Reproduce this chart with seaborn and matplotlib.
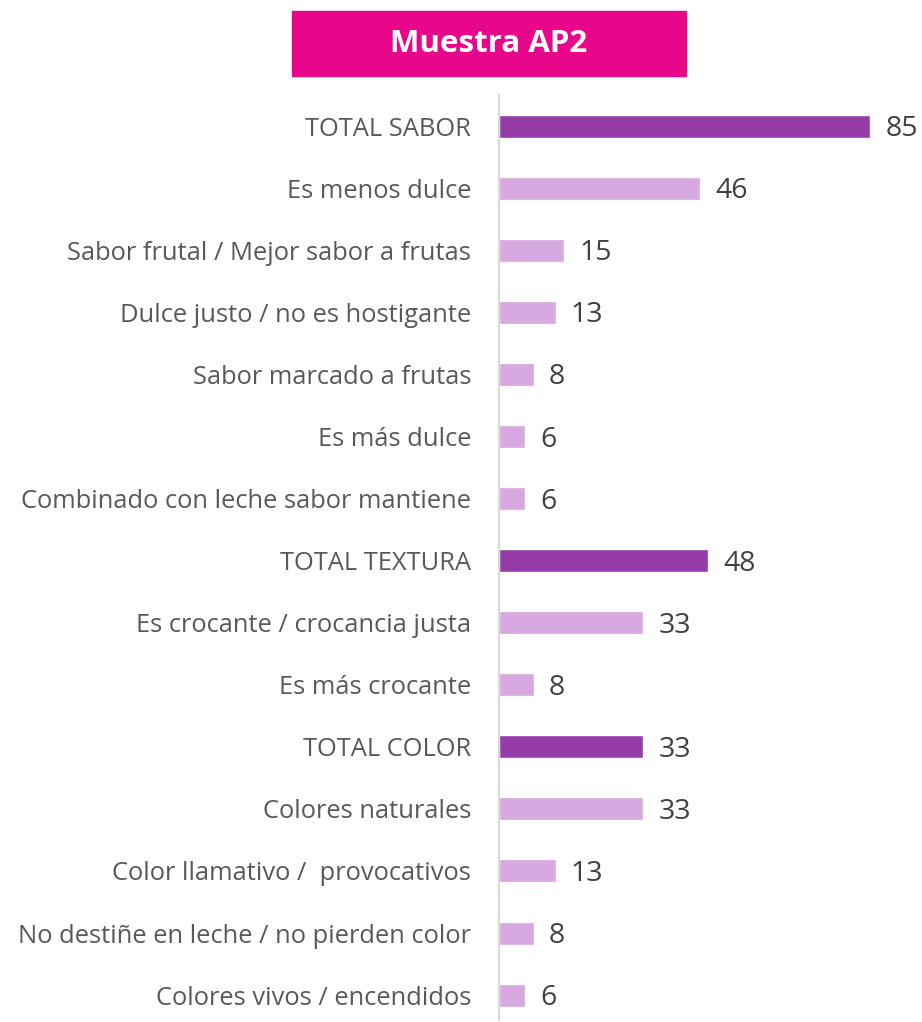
import matplotlib
matplotlib.use('Agg')
import matplotlib.pyplot as plt
import seaborn as sns
import pandas as pd

categories = [
    "TOTAL SABOR", "Es menos dulce", "Sabor frutal / Mejor sabor a frutas",
    "Dulce justo / no es hostigante", "Sabor marcado a frutas", "Es más dulce",
    "Combinado con leche sabor mantiene", "TOTAL TEXTURA",
    "Es crocante / crocancia justa", "Es más crocante", "TOTAL COLOR",
    "Colores naturales", "Color llamativo /  provocativos",
    "No destiñe en leche / no pierden color", "Colores vivos / encendidos",
]
values = [85, 46, 15, 13, 8, 6, 6, 48, 33, 8, 33, 33, 13, 8, 6]
kind = ["total" if c.startswith("TOTAL") else "item" for c in categories]

df = pd.DataFrame({"cat": categories, "val": values, "kind": kind})
palette = {"total": "#953CA9", "item": "#D8A8E0"}

sns.set_style("white")
plt.rcParams['font.family'] = ['Open Sans', 'DejaVu Sans']

fig = plt.figure(figsize=(9.22, 10.22), dpi=100)
ax = fig.add_axes([0.541, 0.002, 0.459, 0.905])
sns.barplot(data=df, y="cat", x="val", hue="kind", palette=palette,
            dodge=False, width=0.37, legend=False, ax=ax, saturation=1)

ax.set_xlim(0, 96.9)
ax.set_ylim(14.4, -0.5)
ax.set_xlabel("")
ax.set_ylabel("")
ax.set_xticks([])
for s in ["top", "right", "bottom"]:
    ax.spines[s].set_visible(False)
ax.spines["left"].set_color("#D9D9D9")
ax.spines["left"].set_linewidth(1.5)
ax.tick_params(axis="y", length=0, pad=20, labelsize=18.4, labelcolor="#595959")

for i, v in enumerate(values):
    ax.text(v + 3.5, i + 0.05, str(v), va="center", ha="left",
            fontsize=20.5, color="#404040")

fig.patches.append(plt.Rectangle((292 / 922, 1 - 76 / 1022), 394 / 922, 65 / 1022,
                                 transform=fig.transFigure, color="#E8078A"))
fig.text(489 / 922, 1 - 43.5 / 1022, "Muestra AP2", ha="center", va="center",
         color="white", fontsize=22.5, fontweight="bold")

fig.savefig("out.png", dpi=100)
